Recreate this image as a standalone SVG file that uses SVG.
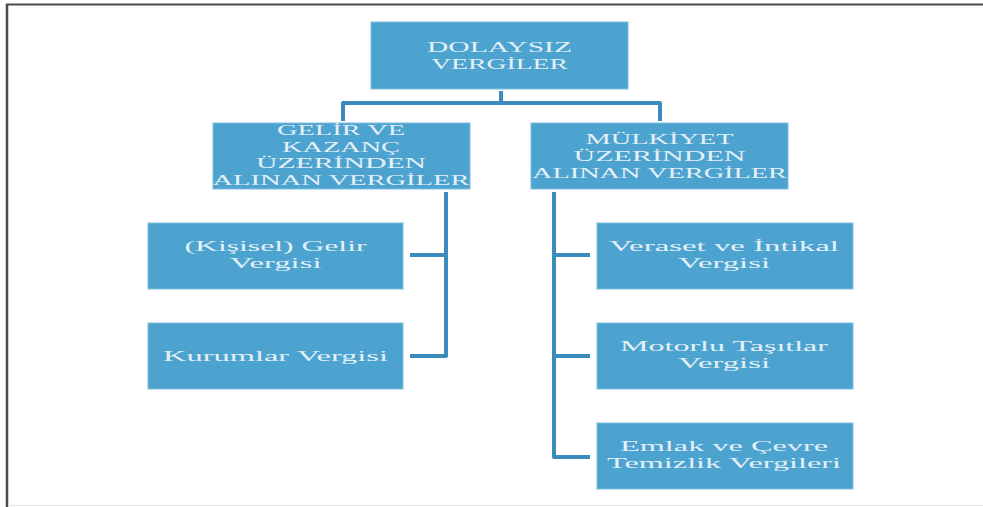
<svg xmlns="http://www.w3.org/2000/svg" width="983" height="507" viewBox="0 0 983 507">
<style>
.box{fill:#4da3cf;stroke:#7dbddd;stroke-width:1}
.t{font-family:"Liberation Serif","Times New Roman",serif;font-size:15px;fill:#e4f0f7;text-anchor:middle}
.c{fill:none;stroke:#3b8bbd;stroke-width:4;stroke-linejoin:round;stroke-linecap:butt}
</style>
<rect x="0" y="0" width="983" height="507" fill="#ffffff"/>
<g id="frame">
<line x1="6" y1="4.5" x2="983" y2="4.5" stroke="#4a4a4a" stroke-width="2"/>
<line x1="7" y1="4" x2="7" y2="507" stroke="#4a4a4a" stroke-width="2.5"/>
<line x1="8" y1="505.5" x2="983" y2="505.5" stroke="#e6e6e6" stroke-width="1"/>
</g>
<g id="connectors">
<polyline class="c" points="501,91 501,103"/>
<polyline class="c" points="343,121 343,103 660,103 660,121"/>
<polyline class="c" points="446,192 446,356 410,356"/>
<polyline class="c" points="446,255 410,255"/>
<polyline class="c" points="554,192 554,457 590,457"/>
<polyline class="c" points="554,255 590,255"/>
<polyline class="c" points="554,356 590,356"/>
</g>
<g id="root">
<rect class="box" x="371" y="22" width="257" height="67"/>
<text class="t" x="499.5" y="52" textLength="145" lengthAdjust="spacingAndGlyphs">DOLAYSIZ</text>
<text class="t" x="499.5" y="69" textLength="137" lengthAdjust="spacingAndGlyphs">VERGİLER</text>
</g>
<g id="gelir">
<rect class="box" x="213" y="123" width="257" height="66"/>
<text class="t" x="341" y="135" textLength="128" lengthAdjust="spacingAndGlyphs">GELİR VE</text>
<text class="t" x="341" y="151.5" textLength="118" lengthAdjust="spacingAndGlyphs">KAZANÇ</text>
<text class="t" x="341" y="168" textLength="170" lengthAdjust="spacingAndGlyphs">ÜZERİNDEN</text>
<text class="t" x="341" y="185" textLength="257" lengthAdjust="spacingAndGlyphs">ALINAN VERGİLER</text>
</g>
<g id="mulkiyet">
<rect class="box" x="531" y="123" width="257" height="66"/>
<text class="t" x="659.5" y="144" textLength="148" lengthAdjust="spacingAndGlyphs">MÜLKİYET</text>
<text class="t" x="659.5" y="161" textLength="172" lengthAdjust="spacingAndGlyphs">ÜZERİNDEN</text>
<text class="t" x="659.5" y="178" textLength="255" lengthAdjust="spacingAndGlyphs">ALINAN VERGİLER</text>
</g>
<g id="kisisel">
<rect class="box" x="148" y="223" width="255" height="66"/>
<text class="t" x="275.5" y="251" textLength="182" lengthAdjust="spacingAndGlyphs">(Kişisel) Gelir</text>
<text class="t" x="275.5" y="268" textLength="92" lengthAdjust="spacingAndGlyphs">Vergisi</text>
</g>
<g id="kurumlar">
<rect class="box" x="148" y="323" width="255" height="66"/>
<text class="t" x="275.5" y="361" textLength="225" lengthAdjust="spacingAndGlyphs">Kurumlar Vergisi</text>
</g>
<g id="veraset">
<rect class="box" x="597" y="223" width="256" height="66"/>
<text class="t" x="724" y="251" textLength="230" lengthAdjust="spacingAndGlyphs">Veraset ve İntikal</text>
<text class="t" x="724" y="268" textLength="92" lengthAdjust="spacingAndGlyphs">Vergisi</text>
</g>
<g id="motorlu">
<rect class="box" x="597" y="323" width="256" height="66"/>
<text class="t" x="724" y="351" textLength="208" lengthAdjust="spacingAndGlyphs">Motorlu Taşıtlar</text>
<text class="t" x="724" y="368" textLength="92" lengthAdjust="spacingAndGlyphs">Vergisi</text>
</g>
<g id="emlak">
<rect class="box" x="597" y="423" width="256" height="66"/>
<text class="t" x="724" y="451" textLength="208" lengthAdjust="spacingAndGlyphs">Emlak ve Çevre</text>
<text class="t" x="724" y="468" textLength="234" lengthAdjust="spacingAndGlyphs">Temizlik Vergileri</text>
</g>
</svg>
